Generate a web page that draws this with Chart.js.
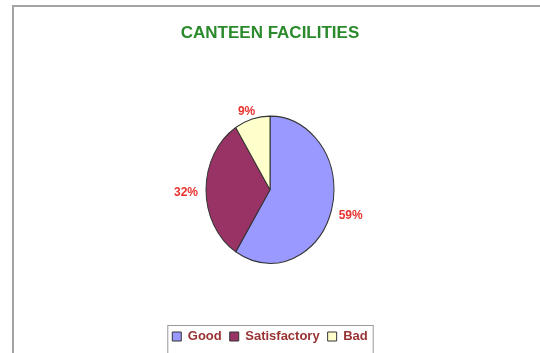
<!DOCTYPE html>
<html>
<head>
<meta charset="utf-8">
<script src="https://cdn.jsdelivr.net/npm/chart.js@4.4.0/dist/chart.umd.min.js"></script>
<style>
  html, body { margin: 0; padding: 0; background: #fff; }
  #wrap { width: 540px; height: 353px; position: relative; }
</style>
</head>
<body>
<div id="wrap"><canvas id="canteenPie" width="540" height="353"></canvas></div>
<script>
const categories = ['Good', 'Satisfactory', 'Bad']
const percentages = [59, 32, 9]
const sliceColors = ['#9999ff', '#993366', '#ffffcc']

const FONT = "'Liberation Sans', Arial, sans-serif"

// 枠線 (左と上だけ見えている)
const framePlugin = {
  id: 'frame',
  beforeDraw(chart) {
    const c = chart.ctx
    c.save()
    c.fillStyle = '#fff'
    c.fillRect(0, 0, chart.width, chart.height)
    c.strokeStyle = '#a3a3a3'
    c.lineWidth = 2
    c.beginPath()
    c.moveTo(13, chart.height)
    c.lineTo(13, 6)
    c.lineTo(chart.width, 6)
    c.stroke()
    c.restore()
  }
}

// 縦に少し伸びた円
const stretchY = 1.15
const ellipsePlugin = {
  id: 'ellipse',
  beforeDatasetsDraw(chart) {
    const arc = chart.getDatasetMeta(0).data[0]
    const c = chart.ctx
    c.save()
    c.translate(arc.x, arc.y)
    c.scale(1, stretchY)
    c.translate(-arc.x, -arc.y)
  },
  afterDatasetsDraw(chart) {
    chart.ctx.restore()
  }
}

// パーセント表示
const labelPlugin = {
  id: 'pctLabels',
  afterDraw(chart) {
    const c = chart.ctx
    const meta = chart.getDatasetMeta(0)
    c.save()
    c.font = 'bold 12px ' + FONT
    c.fillStyle = '#e8322e'
    c.textAlign = 'center'
    c.textBaseline = 'middle'
    meta.data.forEach((arc, i) => {
      const mid = (arc.startAngle + arc.endAngle) / 2
      const dist = arc.outerRadius + 20
      c.fillText(percentages[i] + '%', arc.x + Math.cos(mid) * dist, arc.y + Math.sin(mid) * dist + 3)
    })
    c.restore()
  }
}

// 凡例の枠
const legendBoxPlugin = {
  id: 'legendBox',
  afterDraw(chart) {
    const boxes = chart.legend.legendHitBoxes
    if (!boxes || !boxes.length) return
    const left = boxes[0].left - 5
    const right = boxes[boxes.length - 1].left + boxes[boxes.length - 1].width + 5
    const top = boxes[0].top - 5
    const c = chart.ctx
    c.save()
    c.strokeStyle = '#9a9a9a'
    c.lineWidth = 1
    c.strokeRect(left + 0.5, top + 0.5, right - left, chart.height - top + 5)
    c.restore()
  }
}

new Chart(document.getElementById('canteenPie'), {
  type: 'pie',
  data: {
    labels: categories,
    datasets: [{
      data: percentages,
      backgroundColor: sliceColors,
      borderColor: '#333',
      borderWidth: 1,
      radius: 64
    }]
  },
  options: {
    responsive: false,
    animation: false,
    layout: { padding: { top: 6, bottom: 0 } },
    plugins: {
      title: {
        display: true,
        text: 'CANTEEN FACILITIES',
        color: '#2b8a2b',
        font: { family: FONT, size: 17, weight: 'bold' },
        padding: { top: 17, bottom: 14 }
      },
      legend: {
        position: 'bottom',
        labels: {
          boxWidth: 9,
          boxHeight: 9,
          color: '#993333',
          font: { family: FONT, size: 13, weight: 'bold' },
          padding: 8
        }
      },
      tooltip: { enabled: false }
    }
  },
  plugins: [framePlugin, ellipsePlugin, labelPlugin, legendBoxPlugin]
})
</script>
</body>
</html>
